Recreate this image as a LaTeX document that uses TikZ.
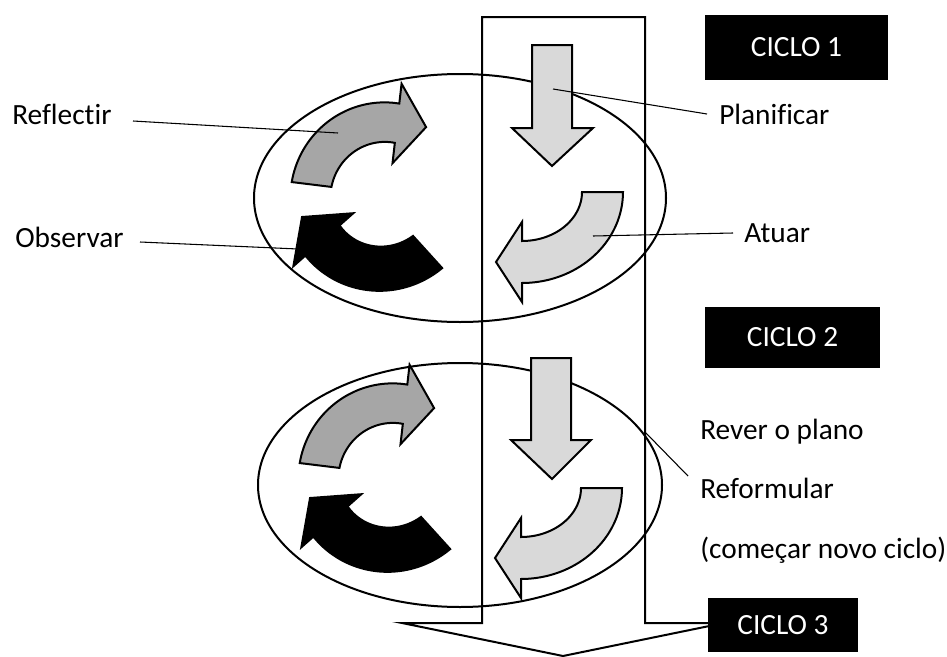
\documentclass[tikz,border=0pt]{standalone}
\usepackage{fontspec}
\setmainfont{Carlito}[Ligatures={NoCommon}]
\definecolor{midgray}{RGB}{166,166,166}
\definecolor{lightgray2}{RGB}{217,217,217}
\begin{document}
\begin{tikzpicture}[x=0.75pt,y=-0.75pt,
  outline/.style={draw=black,line width=1.5pt,line join=miter},
  ell/.style={draw=black,line width=1.5pt},
  shapearrow/.style={draw=black,line width=1.5pt,line join=miter},
  leader/.style={draw=black,line width=0.8pt},
  cyclebox/.style={fill=black,text=white,inner sep=0pt,font=\fontsize{22}{26}\selectfont},
  lbl/.style={anchor=base west,inner sep=0pt,font=\fontsize{22}{26}\selectfont}]
\useasboundingbox (0,0) rectangle (947,657);
% big down arrow
\draw[outline,fill=white] (482,17) -- (645,17) -- (645,623) -- (724,623) -- (563,656) -- (402,623) -- (482,623) -- cycle;
% ellipses
\draw[ell] (460,198) ellipse [x radius=206, y radius=124];
\draw[ell] (460,485) ellipse [x radius=202, y radius=122];
% left cycle arrows (two copies)
\foreach \dx/\dy in {0/0, 8/281}{
\begin{scope}[shift={(\dx,\dy)}]
\filldraw[shapearrow,fill=midgray]
  plot[domain=187:276.5,samples=40,variable=\t] ({389+(98-0.078*(\t-187))*cos(\t)},{194+(98-0.078*(\t-187))*sin(\t)})
  -- ({389+111*cos(276.5)},{194+111*sin(276.5)})
  -- ({389+76.5*cos(299)},{194+76.5*sin(299)})
  -- ({389+31*cos(276.5)},{194+31*sin(276.5)})
  -- plot[domain=276.5:187,samples=40,variable=\t] ({389+(58-0.073*(\t-187))*cos(\t)},{194+(58-0.073*(\t-187))*sin(\t)})
  -- cycle;
\filldraw[shapearrow,fill=black]
  plot[domain=47.8:138.5,samples=40,variable=\t] ({375+(100-0.0776*(\t-47.8))*cos(\t)},{194+(100-0.0776*(\t-47.8))*sin(\t)})
  -- ({375+109*cos(138.5)},{194+109*sin(138.5)})
  -- ({375+76.5*cos(162.5)},{194+76.5*sin(162.5)})
  -- ({375+29*cos(138.5)},{194+29*sin(138.5)})
  -- plot[domain=138.5:47.8,samples=40,variable=\t] ({375+(56.6-0.102*(\t-47.8))*cos(\t)},{194+(56.6-0.102*(\t-47.8))*sin(\t)})
  -- cycle;
\end{scope}}
% straight down arrows
\filldraw[shapearrow,fill=lightgray2] (532,45) -- (572,45) -- (572,128) -- (593,128) -- (552,166) -- (512,128) -- (532,128) -- cycle;
\filldraw[shapearrow,fill=lightgray2] (531,358) -- (571,358) -- (571,440) -- (591,440) -- (552,479) -- (511,440) -- (531,440) -- cycle;
% curved arrows (Atuar)
\foreach \dx/\dy in {0/0, -1/296}{
\begin{scope}[shift={(\dx,\dy)}]
\filldraw[shapearrow,fill=lightgray2]
  (582,192) -- (623,192)
  -- plot[domain=0:90,samples=40,variable=\t] ({522+101*cos(\t)},{192+91*sin(\t)})
  -- (522,302) -- (496,262) -- (522,222)
  -- plot[domain=90:0,samples=40,variable=\t] ({522+60*cos(\t)},{192+49*sin(\t)})
  -- cycle;
\end{scope}}
% labels
\node[lbl] (reflectir) at (12,124) {Reflectir};
\node[lbl] (observar) at (15,247) {Observar};
\node[lbl] (planificar) at (719,124) {Planificar};
\node[lbl] (atuar) at (744,242) {Atuar};
\node[lbl] (rever) at (700,439) {Rever o plano};
\node[lbl] (reform) at (700,498) {Reformular};
\node[lbl] (comecar) at (700,558) {(começar novo ciclo)};
% leader lines
\coordinate (pR1) at (133,121); \coordinate (pR2) at (338,133);
\coordinate (pO1) at (140,242); \coordinate (pO2) at (298,249);
\coordinate (pP1) at (707,114); \coordinate (pP2) at (553,89);
\coordinate (pA1) at (733,233); \coordinate (pA2) at (593,236);
\coordinate (pV1) at (688,476); \coordinate (pV2) at (645,432);
\draw[leader] (pR1) -- (pR2);
\draw[leader] (pO1) -- (pO2);
\draw[leader] (pP1) -- (pP2);
\draw[leader] (pA1) -- (pA2);
\draw[leader] (pV1) -- (pV2);
% cycle boxes
\node[cyclebox,minimum width=137.25pt,minimum height=48.75pt] (c1) at (796.5,47.5) {CICLO 1};
\node[cyclebox,minimum width=131.25pt,minimum height=45.75pt] (c2) at (792.5,337.5) {CICLO 2};
\node[cyclebox,minimum width=112.5pt,minimum height=40.5pt] (c3) at (783,625) {CICLO 3};
\end{tikzpicture}
\end{document}
